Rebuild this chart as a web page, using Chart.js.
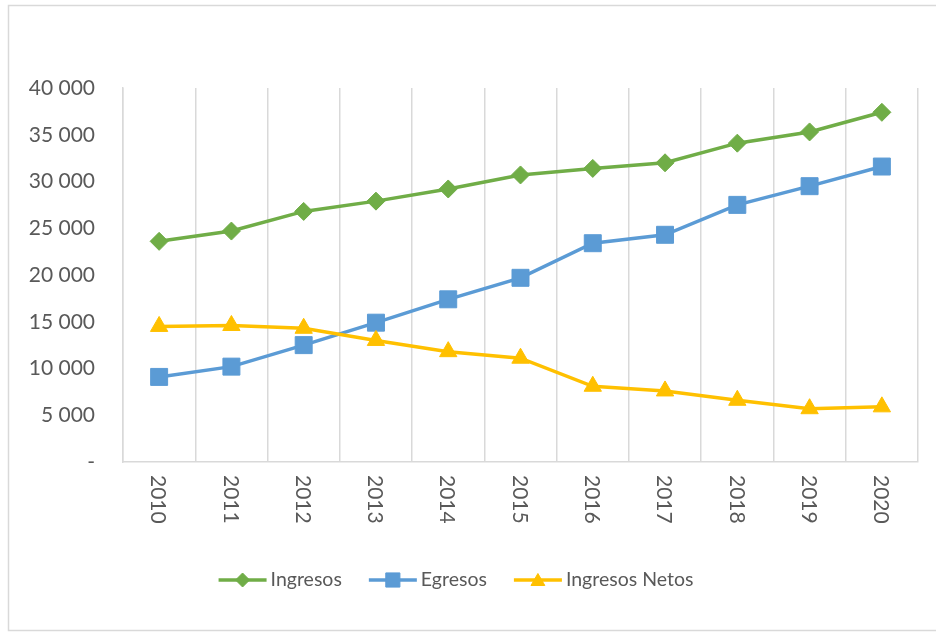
<!DOCTYPE html>
<html>
<head>
<meta charset="utf-8">
<script src="https://cdn.jsdelivr.net/npm/chart.js@4/dist/chart.umd.min.js"></script>
<style>
  html, body { margin: 0; padding: 0; background: #fff; }
  #wrap { width: 936px; height: 632px; }
</style>
</head>
<body>
<div id="wrap"><canvas id="chart" width="936" height="632"></canvas></div>
<script>
// Yearly series (values in thousands of units, shown with space separators)
const years = ['2010', '2011', '2012', '2013', '2014', '2015', '2016', '2017', '2018', '2019', '2020'];
const ingresos = [23600, 24700, 26800, 27900, 29200, 30700, 31400, 32000, 34100, 35300, 37400];
const egresos = [9100, 10200, 12500, 14900, 17400, 19700, 23400, 24300, 27500, 29500, 31600];
const ingresosNetos = [14500, 14600, 14300, 13000, 11800, 11100, 8100, 7600, 6600, 5700, 5900];

const FONT = 'Lato, "Open Sans", sans-serif';
const TEXT = '#595959';
const GRID = '#d9d9d9';

// "40 000" style, zero shown as a dash
function fmt(v) {
  if (v === 0) return '-';
  return String(v).replace(/\B(?=(\d{3})+(?!\d))/g, ' ');
}

// White page with the outer frame
const framePlugin = {
  id: 'frame',
  beforeDraw(chart) {
    const ctx = chart.ctx;
    ctx.save();
    ctx.fillStyle = '#fff';
    ctx.fillRect(0, 0, chart.width, chart.height);
    ctx.strokeStyle = GRID;
    ctx.lineWidth = 1.5;
    ctx.beginPath();
    ctx.moveTo(chart.width, 5.5);
    ctx.lineTo(8.5, 5.5);
    ctx.lineTo(8.5, 630.5);
    ctx.lineTo(chart.width, 630.5);
    ctx.stroke();
    ctx.restore();
  }
};

// Category labels turned 90deg clockwise, read top to bottom
const yearLabels = {
  id: 'yearLabels',
  afterDraw(chart) {
    const ctx = chart.ctx;
    const xs = chart.scales.x;
    ctx.save();
    ctx.fillStyle = TEXT;
    ctx.font = '21px ' + FONT;
    ctx.textAlign = 'left';
    ctx.textBaseline = 'middle';
    xs.ticks.forEach((t, i) => {
      const x = xs.getPixelForTick(i);
      ctx.save();
      ctx.translate(x - 1, chart.chartArea.bottom + 13);
      ctx.rotate(Math.PI / 2);
      ctx.fillText(chart.data.labels[i], 0, 0);
      ctx.restore();
    });
    ctx.restore();
  }
};

// Legend with a line sample and marker for each series
const lineLegend = {
  id: 'lineLegend',
  afterDraw(chart) {
    const ctx = chart.ctx;
    const sample = 48, gap = 4, between = 27;
    const cy = 580, cx = 456;
    ctx.save();
    ctx.font = '19.5px ' + FONT;
    const sets = chart.data.datasets;
    const widths = sets.map(ds => sample + gap + ctx.measureText(ds.label).width);
    const total = widths.reduce((a, b) => a + b, 0) + between * (sets.length - 1);
    let x = cx - total / 2;
    sets.forEach((ds, i) => {
      ctx.strokeStyle = ds.borderColor;
      ctx.lineWidth = 3.5;
      ctx.beginPath();
      ctx.moveTo(x, cy);
      ctx.lineTo(x + sample, cy);
      ctx.stroke();
      ctx.fillStyle = ds.pointBackgroundColor;
      ctx.strokeStyle = ds.pointBorderColor;
      ctx.lineWidth = 1;
      Chart.helpers.drawPoint(ctx, {
        pointStyle: ds.pointStyle,
        radius: ds.legendRadius,
        rotation: 0,
        borderWidth: 1
      }, x + sample / 2, ds.pointStyle === 'triangle' ? cy + 1.5 : cy);
      ctx.fillStyle = TEXT;
      ctx.textAlign = 'left';
      ctx.textBaseline = 'middle';
      ctx.fillText(ds.label, x + sample + gap, cy);
      x += widths[i] + between;
    });
    ctx.restore();
  }
};

function series(label, data, color, style, radius, legendRadius, order) {
  return {
    label, data, order,
    borderColor: color,
    backgroundColor: color,
    borderWidth: 3.5,
    pointStyle: style,
    pointRadius: radius,
    pointHoverRadius: radius,
    pointBackgroundColor: color,
    pointBorderColor: color,
    pointBorderWidth: 1,
    legendRadius,
    tension: 0,
    fill: false
  };
}

new Chart(document.getElementById('chart'), {
  type: 'line',
  data: {
    labels: years,
    datasets: [
      series('Ingresos', ingresos, '#70ad47', 'rectRot', 9, 7, 3),
      series('Egresos', egresos, '#5b9bd5', 'rect', 12, 10, 2),
      series('Ingresos Netos', ingresosNetos, '#ffc000', 'triangle', 10, 8, 1)
    ]
  },
  options: {
    responsive: false,
    animation: false,
    events: [],
    layout: { padding: { left: 0, right: 18, top: 88, bottom: 170 } },
    plugins: {
      legend: { display: false },
      tooltip: { enabled: false }
    },
    scales: {
      x: {
        offset: true,
        grid: { display: true, offset: true, color: GRID, lineWidth: 1.5, drawTicks: false },
        border: { display: true, color: GRID, width: 1.5 },
        ticks: { display: false }
      },
      y: {
        min: 0,
        max: 40000,
        afterFit(scale) { scale.width = 123; },
        grid: { display: false, drawTicks: false },
        border: { display: true, color: GRID, width: 1.5 },
        ticks: {
          stepSize: 5000,
          padding: 28,
          color: TEXT,
          font: { family: FONT, size: 21 },
          callback: v => fmt(v)
        }
      }
    }
  },
  plugins: [framePlugin, yearLabels, lineLegend]
});
</script>
</body>
</html>
